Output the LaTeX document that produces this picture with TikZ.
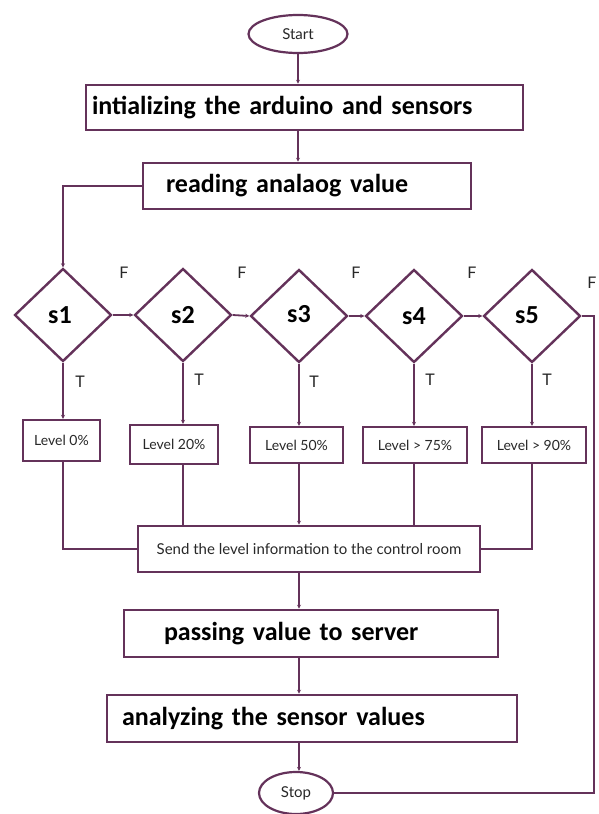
\documentclass[tikz,border=0pt]{standalone}
\usepackage{fontspec}
\setmainfont{Carlito}
\newfontfamily\smallfont{Lato}
\usetikzlibrary{shapes.geometric,arrows.meta}
\definecolor{lc}{RGB}{100,50,90}
\definecolor{tc}{RGB}{40,40,40}
\begin{document}
\begin{tikzpicture}[x=1pt,y=-1pt,
  proc/.style={draw=lc, line width=2.6pt, rectangle, inner ysep=0pt, text=black,
    font=\bfseries\fontsize{26}{28}\selectfont, align=left},
  lvl/.style={draw=lc, line width=2.4pt, rectangle, inner sep=0pt, text=tc,
    font=\smallfont\fontsize{14}{16}\selectfont},
  dec/.style={draw=lc, line width=2.4pt, diamond, aspect=1, inner sep=0pt,
    minimum width=97pt, minimum height=93pt, text=black,
    font=\bfseries\fontsize{26}{28}\selectfont},
  term/.style={draw=lc, line width=2.2pt, ellipse, inner sep=0pt, text=tc,
    font=\smallfont\fontsize{15}{17}\selectfont},
  conn/.style={draw=lc, line width=1.8pt},
  arr/.style={conn, -{Stealth[length=4pt,width=4pt]}},
  tf/.style={text=tc, font=\smallfont\fontsize{16}{18}\selectfont, inner sep=0pt}
]
\useasboundingbox[fill=white] (0,0) rectangle (598,814);

% terminals
\node[term, minimum width=99pt, minimum height=38pt] (start) at (298,34) {Start};
\node[term, minimum width=74pt, minimum height=42pt] (stop) at (296,793) {Stop};

% process boxes
\node[proc, minimum height=45pt, inner xsep=6pt, text width=425pt] (b1) at (304.5,107.5)
  {intializing the arduino and sensors};
\node[proc, minimum height=46pt, inner xsep=23pt, text width=282pt] (b2) at (307,186)
  {reading analaog value};
\node[lvl, line width=2.6pt, minimum height=46pt, minimum width=342pt, font=\smallfont\fontsize{15}{17}\selectfont] (send) at (309,549)
  {Send the level information to the control room};
\node[proc, minimum height=47pt, inner xsep=40pt, text width=294pt] (pass) at (311,633.5)
  {\raisebox{-7pt}{passing value to server}};
\node[proc, minimum height=47pt, inner xsep=15pt, text width=380pt] (ana) at (312,718.5)
  {analyzing the sensor values};

% decisions
\node[dec] (s1) at (63,315) {\hspace*{-6pt}s1};
\node[dec] (s2) at (183,315) {s2};
\node[dec] (s3) at (299,316) {\raisebox{4pt}{s3}};
\node[dec] (s4) at (414,316) {s4};
\node[dec] (s5) at (532,316) {\raisebox{2pt}{\hspace*{-10pt}s5}};

% level boxes
\node[lvl, minimum width=77pt, minimum height=41pt] (l0) at (61.5,440.5) {Level 0\%};
\node[lvl, minimum width=88pt, minimum height=39pt] (l20) at (174,444.5) {Level 20\%};
\node[lvl, minimum width=93pt, minimum height=36pt] (l50) at (296.5,445) {Level 50\%};
\node[lvl, minimum width=104pt, minimum height=36pt] (l75) at (415,445) {Level > 75\%};
\node[lvl, minimum width=104pt, minimum height=36pt] (l90) at (534,445) {Level > 90\%};

% F / T labels
\node[tf] (f1) at (124,273) {F};
\node[tf] (f2) at (242,273) {F};
\node[tf] (f3) at (356,273) {F};
\node[tf] (f4) at (472,273) {F};
\node[tf] (f5) at (592,283) {F};
\node[tf] (t1) at (80,382) {T};
\node[tf] (t2) at (199,380) {T};
\node[tf] (t3) at (314,382) {T};
\node[tf] (t4) at (430,380) {T};
\node[tf] (t5) at (547,380) {T};

% main flow
\draw[arr] (start.south) -- (start.south |- b1.north);
\draw[arr] (start.south |- b1.south) -- (start.south |- b2.north);
\draw[arr] (b2.west) -| (s1.north);

% false chain
\draw[arr] (s1.east) -- (s2.west);
\draw[arr] (s2.east) -- (s3.west);
\draw[arr] (s3.east) -- (s4.west);
\draw[arr] (s4.east) -- (s5.west);
\coordinate (rc) at (594,316);
\draw[conn] (s5.east) -- (rc) |- (stop.east);

% true branches
\draw[arr] (s1.south) -- (s1.south |- l0.north);
\draw[arr] (s2.south) -- (s2.south |- l20.north);
\draw[arr] (s3.south) -- (s3.south |- l50.north);
\draw[arr] (s4.south) -- (s4.south |- l75.north);
\draw[arr] (s5.south) -- (s5.south |- l90.north);

% collect
\draw[conn] (s1.south |- l0.south) |- (send.west);
\draw[conn] (s2.south |- l20.south) -- (s2.south |- send.north);
\draw[arr] (s3.south |- l50.south) -- (s3.south |- send.north);
\draw[conn] (s4.south |- l75.south) -- (s4.south |- send.north);
\draw[conn] (s5.south |- l90.south) |- (send.east);

% lower flow
\draw[arr] (s3.south |- send.south) -- (s3.south |- pass.north);
\draw[arr] (s3.south |- pass.south) -- (s3.south |- ana.north);
\draw[arr] (s3.south |- ana.south) -- (s3.south |- stop.north);
\end{tikzpicture}
\end{document}
